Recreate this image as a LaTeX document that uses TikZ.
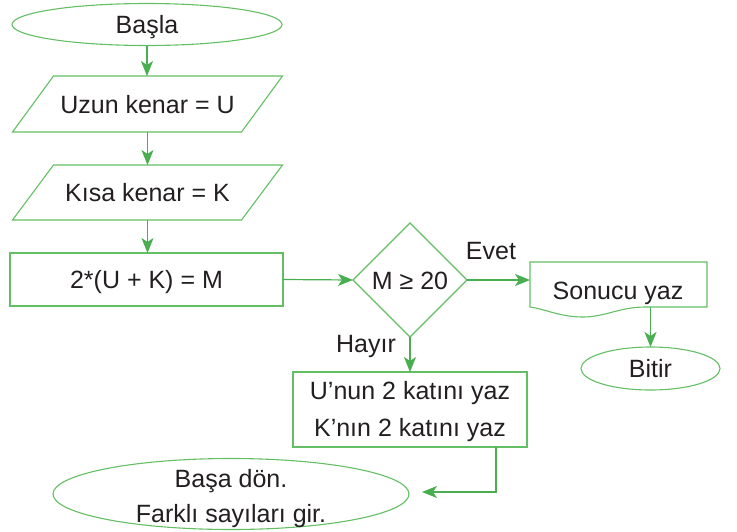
\documentclass[tikz,border=0pt]{standalone}
\usepackage{fontspec}
\setmainfont{Liberation Sans}
\usetikzlibrary{shapes.geometric,arrows.meta}
\definecolor{boxgreen}{RGB}{100,190,100}
\definecolor{arrgreen}{RGB}{72,174,80}
\definecolor{ink}{RGB}{35,31,32}
\begin{document}
\begin{tikzpicture}[x=1pt,y=-1pt,
  font=\fontsize{25}{30}\selectfont, text=ink,
  oneline/.style={text height=18pt, text depth=0pt},
  shapebox/.style={draw=boxgreen, line width=1.1pt, inner sep=0pt, outer sep=0pt},
  outline/.style={draw=boxgreen, line width=1.1pt},
  parabox/.style={oneline, inner sep=0pt, outer sep=0pt, minimum width=229pt, minimum height=56pt},
  arr/.style={draw=arrgreen, line width=1.2pt, -{Stealth[length=15pt,width=12pt,inset=4pt]}},
  lbl/.style={inner sep=0pt}]
\useasboundingbox (0,0) rectangle (737,531);

\node[shapebox, oneline, ellipse, minimum width=270pt, minimum height=42pt] (start) at (147,24.5) {Başla};

\node[parabox] (in1) at (147.5,104) {Uzun kenar = U};
\draw[outline] ([xshift=20.5pt]in1.north west) -- ([xshift=20.5pt]in1.north east)
  -- ([xshift=-20.5pt]in1.south east) -- ([xshift=-20.5pt]in1.south west) -- cycle;

\node[parabox, minimum height=55pt] (in2) at (147.5,192.5) {Kısa kenar = K};
\draw[outline] ([xshift=20.5pt]in2.north west) -- ([xshift=20.5pt]in2.north east)
  -- ([xshift=-20.5pt]in2.south east) -- ([xshift=-20.5pt]in2.south west) -- cycle;

\node[shapebox, oneline, rectangle, minimum width=273pt, minimum height=53pt] (calc) at (146.5,279.5) {2*(U + K) = M};
\node[shapebox, oneline, diamond, minimum width=114pt, minimum height=114pt] (dec) at (410,280) {M ≥ 20};

\node[inner sep=0pt, outer sep=0pt, minimum width=177pt, minimum height=45pt] (doc) at (618.5,284.5) {};
\draw[outline] (530,307) -- (530,262) -- (707,262) -- (707,307) -- (645,307)
  .. controls (620,307) and (605,317) .. (583,317)
  .. controls (560,317) and (545,309) .. (530,307) -- cycle;
\node[lbl, oneline] (doctext) at (618,290) {Sonucu yaz};

\node[shapebox, oneline, ellipse, minimum width=139pt, minimum height=43pt] (end) at (650.5,368.5) {Bitir};
\node[shapebox, rectangle, minimum width=234pt, minimum height=75pt] (dbl) at (410,409.5) {};
\node[lbl, align=center] (dbltext) at (410,411.5) {U’nun 2 katını yaz\\[7pt]K’nın 2 katını yaz};
\node[shapebox, ellipse, minimum width=356pt, minimum height=71pt] (back) at (231,494) {};
\node[lbl, align=center] (backtext) at (231,499) {Başa dön.\\[5pt]Farklı sayıları gir.};

\node[lbl, oneline] (yes) at (491,250.5) {Evet};
\node[lbl, oneline] (no) at (366,343.5) {Hayır};

\coordinate (backin) at (422,492);

\draw[arr] (start.south) -- (start.south |- in1.north);
\draw[arr] (in1.south) -- (in1.south |- in2.north);
\draw[arr] (in2.south) -- (in2.south |- calc.north);
\draw[arr] (calc.east) -- (dec.west);
\draw[arr] (dec.east) -- (dec.east -| doc.west);
\draw[arr] (doc.south -| end.north) -- (end.north);
\draw[arr] (dec.south) -- (dbl.north);
\draw[arr] ([xshift=86pt]dbl.south) |- (backin);
\end{tikzpicture}
\end{document}
